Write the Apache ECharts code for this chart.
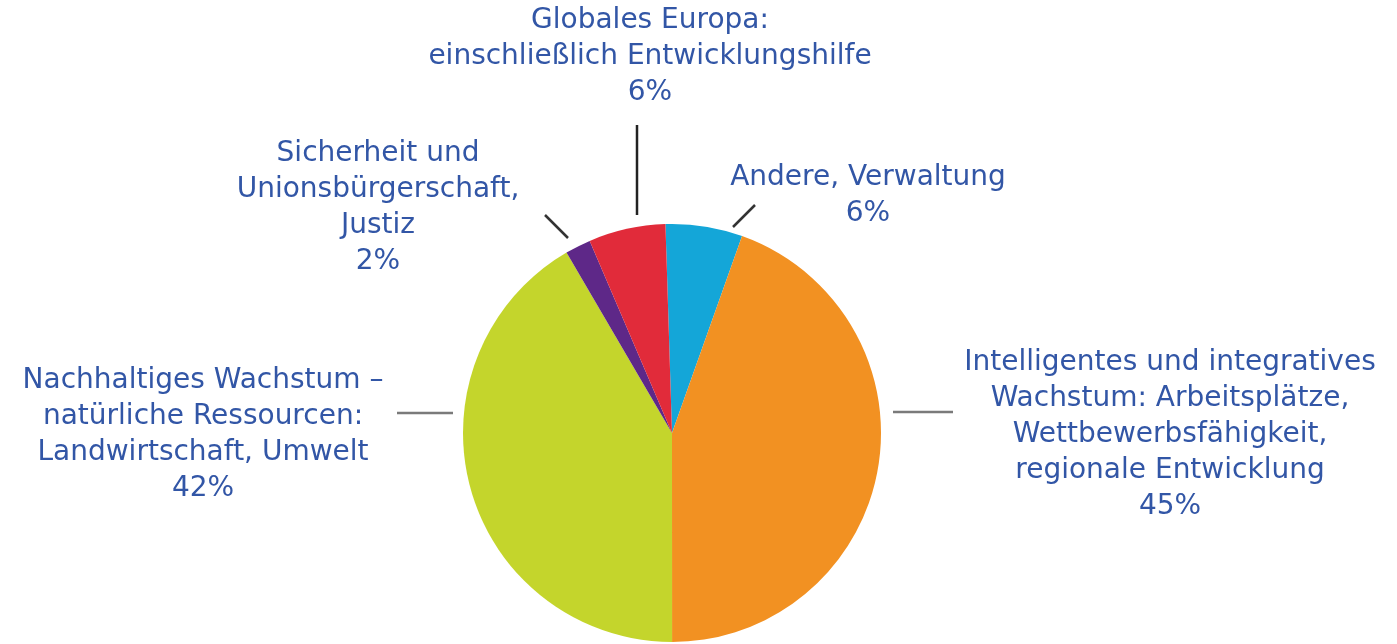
<!DOCTYPE html>
<html>
<head>
<meta charset="utf-8">
<title>EU-Haushalt</title>
<script src="https://cdn.jsdelivr.net/npm/echarts@6/dist/echarts.min.js"></script>
<style>
    html, body { margin: 0; padding: 0; background: #fff; }
    #chart { width: 1397px; height: 644px; }
</style>
</head>
<body>
<div id="chart"></div>
<script>
    // Kategorien im Uhrzeigersinn, ab 12 Uhr
    var categories = [
        'Andere, Verwaltung',
        'Intelligentes und integratives\nWachstum: Arbeitsplätze,\nWettbewerbsfähigkeit,\nregionale Entwicklung',
        'Nachhaltiges Wachstum –\nnatürliche Ressourcen:\nLandwirtschaft, Umwelt',
        'Sicherheit und\nUnionsbürgerschaft,\nJustiz',
        'Globales Europa:\neinschließlich Entwicklungshilfe'
    ];
    var shares = [6, 45, 42, 2, 6];
    var colors = ['#14a6d8', '#f29122', '#c4d52c', '#5e2888', '#e12b3a'];

    // Beschriftung: Mitte des Textblocks und Linienpunkte (px)
    var labelPos = [[868, 196], [1170, 435], [203, 435], [378, 208], [650, 57]];
    var linePts = [
        [[755, 205], [733, 227]],
        [[953, 412], [893, 412]],
        [[397, 413], [453, 413]],
        [[545, 215], [568, 238]],
        [[637, 125], [637, 215]]
    ];
    var lineColors = ['#333', '#7a7a7a', '#7a7a7a', '#333', '#222'];

    var myChart = echarts.init(document.getElementById('chart'));
    var option = {
        backgroundColor: '#fff',
        animation: false,
        series: [{
            type: 'pie',
            center: [672, 433],
            radius: 209,
            startAngle: 91.8,
            clockwise: true,
            silent: true,
            data: categories.map(function (name, i) {
                return {
                    name: name,
                    value: shares[i],
                    itemStyle: { color: colors[i] },
                    labelLine: { lineStyle: { color: lineColors[i] } }
                };
            }),
            label: {
                show: true,
                position: 'outside',
                formatter: '{b}\n{c}%',
                color: '#3256a6',
                fontFamily: "'DejaVu Sans', sans-serif",
                fontSize: 28,
                lineHeight: 36,
                align: 'center'
            },
            labelLine: {
                show: true,
                smooth: false,
                lineStyle: { width: 2.5 }
            },
            labelLayout: function (p) {
                var i = p.dataIndex;
                return {
                    x: labelPos[i][0],
                    y: labelPos[i][1],
                    align: 'center',
                    verticalAlign: 'middle',
                    labelLinePoints: linePts[i]
                };
            }
        }]
    };
    myChart.setOption(option);
</script>
</body>
</html>
